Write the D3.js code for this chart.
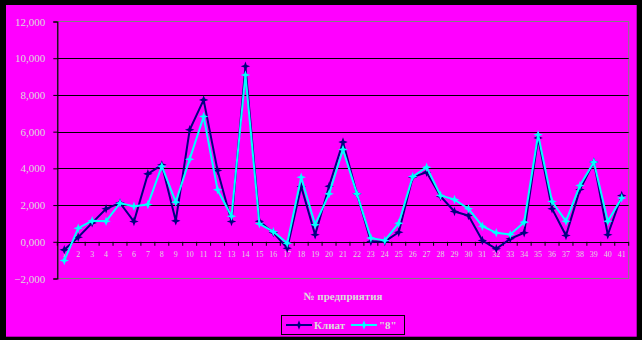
<!DOCTYPE html>
<html>
<head>
<meta charset="utf-8">
<script src="https://cdn.jsdelivr.net/npm/d3@7"></script>
<style>
  body { margin: 0; background: #000; }
  svg { display: block; }
</style>
</head>
<body>
<div id="chart"></div>
<script>
// Data
const categories = d3.range(1, 42)
const klientValues = [
  -0.44, 0.25, 1.03, 1.80, 2.12, 1.10, 3.70, 4.19, 1.14, 6.10,
  7.73, 3.88, 1.10, 9.56, 1.12, 0.50, -0.35, 3.01, 0.38, 3.03,
  5.43, 2.61, 0.02, 0.02, 0.52, 3.52, 3.79, 2.47, 1.65, 1.43,
  0.07, -0.38, 0.16, 0.49, 5.66, 1.80, 0.34, 2.85, 4.34, 0.38,
  2.52
]
const eightValues = [
  -1.02, 0.74, 1.14, 1.12, 2.10, 1.94, 2.03, 4.12, 2.16, 4.50,
  6.82, 2.83, 1.39, 9.09, 0.98, 0.55, -0.08, 3.52, 0.93, 2.61,
  5.03, 2.61, 0.20, 0.07, 1.01, 3.55, 4.06, 2.52, 2.30, 1.80,
  0.85, 0.49, 0.40, 1.07, 5.83, 2.19, 1.12, 3.07, 4.34, 1.12,
  2.38
]
const yTicks = [-2, 0, 2, 4, 6, 8, 10, 12]
const seriesNames = ['Клиат', '"8"']
const xTitle = '№ предприятия'

// Dimensions
let dimensions = {
  width: 642,
  height: 340,
  plotLeft: 57.3,
  plotRight: 628.7,
  plotTop: 21.5,
  plotBottom: 278.5,
}

const textColor = '#dcdcdc'
const bg = '#ff00ff'
const colors = ['#000080', '#00ffff']

const svg = d3.select('#chart')
  .append('svg')
  .attr('width', dimensions.width)
  .attr('height', dimensions.height)

// black frame + magenta chart area
svg.append('rect')
  .attr('width', dimensions.width)
  .attr('height', dimensions.height)
  .attr('fill', '#000')
svg.append('rect')
  .attr('x', 6).attr('y', 5)
  .attr('width', 636.7 - 6)
  .attr('height', 336.7 - 5)
  .attr('fill', bg)

// Scales
const x = d3.scaleBand()
  .domain(categories)
  .range([dimensions.plotLeft, dimensions.plotRight])
  .padding(0)

const y = d3.scaleLinear()
  .domain([-2, 12])
  .range([dimensions.plotBottom, dimensions.plotTop])

const cx = d => x(d) + x.bandwidth() / 2

// plot border (grey)
svg.append('rect')
  .attr('x', dimensions.plotLeft)
  .attr('y', y(12))
  .attr('width', dimensions.plotRight - dimensions.plotLeft)
  .attr('height', y(-2) - y(12))
  .attr('fill', 'none')
  .attr('stroke', '#808080')
  .attr('stroke-width', 1)

// gridlines
svg.append('g')
  .selectAll('line')
  .data(yTicks.filter(d => d > 0 && d < 12))
  .join('line')
  .attr('x1', dimensions.plotLeft)
  .attr('x2', dimensions.plotRight)
  .attr('y1', d => Math.round(y(d)) + 0.5)
  .attr('y2', d => Math.round(y(d)) + 0.5)
  .attr('stroke', '#000')
  .attr('stroke-width', 1.2)

// y axis
const yAxis = svg.append('g')
  .attr('transform', `translate(${dimensions.plotLeft},0)`)
  .call(
    d3.axisLeft(y)
      .tickValues(yTicks)
      .tickSize(4)
      .tickPadding(8)
      .tickFormat(d => d3.format('.3f')(d).replace('.', ','))
  )
yAxis.select('.domain').attr('stroke', '#000').attr('stroke-width', 1.2)
yAxis.selectAll('.tick line').attr('stroke', '#000')
yAxis.selectAll('.tick text')
  .attr('fill', textColor)
  .style('font-family', '"Liberation Serif", serif')
  .style('font-size', '11px')

// x axis at 0 with ticks between categories
const xAxisG = svg.append('g')
xAxisG.append('line')
  .attr('x1', dimensions.plotLeft)
  .attr('x2', dimensions.plotRight)
  .attr('y1', Math.round(y(0)) + 0.5)
  .attr('y2', Math.round(y(0)) + 0.5)
  .attr('stroke', '#000')
  .attr('stroke-width', 1.2)
xAxisG.selectAll('.tk')
  .data(categories.concat([categories.length + 1]))
  .join('line')
  .attr('class', 'tk')
  .attr('x1', d => (d <= categories.length ? x(d) : dimensions.plotRight))
  .attr('x2', d => (d <= categories.length ? x(d) : dimensions.plotRight))
  .attr('y1', y(0))
  .attr('y2', y(0) + 4)
  .attr('stroke', '#000')
xAxisG.selectAll('text')
  .data(categories)
  .join('text')
  .attr('x', cx)
  .attr('y', y(0) + 15)
  .attr('text-anchor', 'middle')
  .attr('fill', textColor)
  .style('font-family', '"Liberation Serif", serif')
  .style('font-size', '8px')
  .text(d => d)

// axis title
svg.append('text')
  .attr('x', (dimensions.plotLeft + dimensions.plotRight) / 2)
  .attr('y', 300)
  .attr('text-anchor', 'middle')
  .attr('fill', textColor)
  .style('font-family', '"Liberation Serif", serif')
  .style('font-size', '11px')
  .style('font-weight', 'bold')
  .text(xTitle)

// 4 pointed star marker
const star4 = {
  draw(context, size) {
    const r = Math.sqrt(size) * 0.75
    const ri = r * 0.38
    for (let i = 0; i < 8; i++) {
      const a = i * Math.PI / 4 - Math.PI / 2
      const rr = i % 2 === 0 ? r : ri
      const px = rr * Math.cos(a)
      const py = rr * Math.sin(a)
      if (i === 0) context.moveTo(px, py)
      else context.lineTo(px, py)
    }
    context.closePath()
  }
}
const marker = d3.symbol().type(star4).size(40)

const line = d3.line()
  .x((d, i) => cx(categories[i]))
  .y(d => y(d))

const allSeries = [klientValues, eightValues]

allSeries.forEach((values, si) => {
  const g = svg.append('g')
  g.append('path')
    .datum(values)
    .attr('d', line)
    .attr('fill', 'none')
    .attr('stroke', colors[si])
    .attr('stroke-width', 2)
  g.selectAll('path.m')
    .data(values)
    .join('path')
    .attr('class', 'm')
    .attr('transform', (d, i) => `translate(${cx(categories[i])},${y(d)})`)
    .attr('d', marker)
    .attr('fill', colors[si])
})

// Legend
const legend = svg.append('g')
legend.append('rect')
  .attr('x', 281.5).attr('y', 315.5)
  .attr('width', 123).attr('height', 19)
  .attr('fill', 'none')
  .attr('stroke', '#000')
  .attr('stroke-width', 1)

const legendX = [286, 351]
seriesNames.forEach((name, si) => {
  const lx = legendX[si]
  const ly = 325
  legend.append('line')
    .attr('x1', lx).attr('x2', lx + 26)
    .attr('y1', ly).attr('y2', ly)
    .attr('stroke', colors[si])
    .attr('stroke-width', 2)
  legend.append('path')
    .attr('transform', `translate(${lx + 13},${ly})`)
    .attr('d', marker)
    .attr('fill', colors[si])
  legend.append('text')
    .attr('x', lx + 28)
    .attr('y', ly + 4)
    .attr('fill', textColor)
    .style('font-family', '"Liberation Serif", serif')
    .style('font-size', '11px')
    .style('font-weight', 'bold')
    .text(name)
})
</script>
</body>
</html>
